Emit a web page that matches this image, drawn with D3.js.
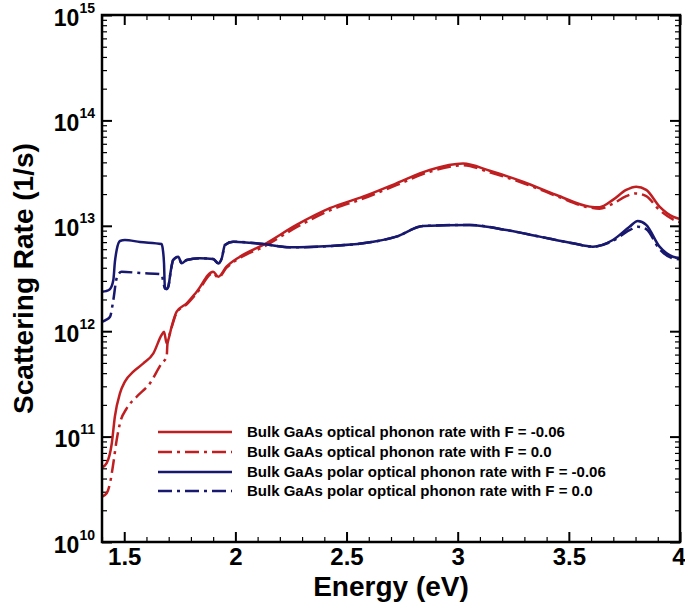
<!DOCTYPE html>
<html>
<head>
<meta charset="utf-8">
<script src="https://cdn.jsdelivr.net/npm/d3@7"></script>
<style>
  html, body { margin: 0; padding: 0; background: #fff; }
  svg { display: block; font-family: "Liberation Sans", Arial, sans-serif; font-weight: bold; }
</style>
</head>
<body>
<svg id="chart" width="685" height="609"></svg>
<script>
// ---------- data ----------
const seriesNames = [
  "Bulk GaAs optical phonon rate with F = -0.06",
  "Bulk GaAs optical phonon rate with F = 0.0",
  "Bulk GaAs polar optical phonon rate with F = -0.06",
  "Bulk GaAs polar optical phonon rate with F = 0.0"
];

const opticalE = [1.400,1.421,1.444,1.458,1.481,1.503,1.541,1.586,1.631,1.668,1.679,1.691,1.698,1.713,1.736,1.781,1.826,1.900,1.923,1.960,2.020,2.125,2.275,2.425,2.574,2.724,2.874,3.024,3.144,3.293,3.444,3.594,3.638,3.698,3.758,3.803,3.848,3.908,3.968,4.000];
const opticalRateF006 = [5.1e10,5.6e10,8.6e10,1.55e11,2.58e11,3.32e11,4.13e11,4.95e11,6.17e11,9.2e11,9.9e11,7.67e11,8.26e11,1.10e12,1.53e12,1.84e12,2.37e12,3.67e12,3.29e12,4.09e12,5.09e12,6.58e12,1.02e13,1.47e13,1.89e13,2.53e13,3.38e13,3.89e13,3.33e13,2.62e13,1.96e13,1.52e13,1.50e13,1.76e13,2.19e13,2.35e13,2.19e13,1.52e13,1.22e13,1.16e13];

const opticalE0 = [1.400,1.421,1.436,1.451,1.466,1.481,1.511,1.556,1.616,1.668,1.691,1.694,1.698,1.713,1.736,1.781,1.826,1.900,1.923,1.960,2.020,2.125,2.275,2.425,2.574,2.724,2.874,3.024,3.144,3.293,3.444,3.594,3.638,3.698,3.758,3.803,3.848,3.908,3.968,4.000];
const opticalRateF0 = [2.69e10,2.90e10,3.61e10,5.58e10,9.29e10,1.34e11,1.85e11,2.39e11,3.21e11,4.95e11,5.73e11,7.41e11,8.26e11,1.08e12,1.50e12,1.80e12,2.30e12,3.55e12,3.22e12,4.00e12,4.95e12,6.30e12,9.7e12,1.40e13,1.81e13,2.43e13,3.25e13,3.75e13,3.22e13,2.55e13,1.92e13,1.49e13,1.45e13,1.62e13,1.91e13,2.03e13,1.91e13,1.41e13,1.15e13,1.08e13];

const polarE = [1.400,1.418,1.436,1.451,1.458,1.466,1.481,1.503,1.571,1.668,1.674,1.679,1.683,1.690,1.698,1.710,1.720,1.743,1.758,1.781,1.840,1.900,1.923,1.939,1.953,1.990,2.125,2.245,2.425,2.574,2.724,2.844,3.054,3.219,3.369,3.518,3.608,3.698,3.773,3.810,3.848,3.908,3.968,4.000];
const polarRateF006 = [2.37e12,2.40e12,2.51e12,3.06e12,4.54e12,5.89e12,7.18e12,7.33e12,7.02e12,6.71e12,5.89e12,4.41e12,2.55e12,2.51e12,2.64e12,3.80e12,4.73e12,5.09e12,4.41e12,4.73e12,4.92e12,4.84e12,4.41e12,4.94e12,6.58e12,7.06e12,6.71e12,6.25e12,6.43e12,6.82e12,7.89e12,9.95e12,1.02e13,9.12e12,7.89e12,6.82e12,6.34e12,7.33e12,9.79e12,1.11e13,1.02e13,6.34e12,5.09e12,4.94e12];

const polarE0 = [1.400,1.418,1.436,1.451,1.466,1.488,1.571,1.668,1.674,1.683,1.690,1.698,1.710,1.720,1.743,1.758,1.781,1.840,1.900,1.923,1.939,1.953,1.990,2.125,2.245,2.425,2.574,2.724,2.844,3.054,3.219,3.369,3.518,3.608,3.698,3.773,3.810,3.848,3.908,3.968,4.000];
const polarRateF0 = [1.23e12,1.28e12,1.37e12,1.98e12,3.18e12,3.67e12,3.56e12,3.47e12,3.06e12,2.55e12,2.51e12,2.64e12,3.80e12,4.73e12,5.09e12,4.41e12,4.73e12,4.92e12,4.84e12,4.41e12,4.94e12,6.58e12,7.06e12,6.71e12,6.25e12,6.43e12,6.82e12,7.89e12,9.95e12,1.02e13,9.12e12,7.89e12,6.82e12,6.34e12,7.20e12,9.1e12,9.8e12,9.3e12,6.0e12,4.9e12,4.8e12];

const xMajorTicks = [1.5, 2, 2.5, 3, 3.5, 4];
const yMajorTicks = [1e10, 1e11, 1e12, 1e13, 1e14, 1e15];
const xTitle = "Energy (eV)";
const yTitle = "Scattering Rate (1/s)";

// ---------- layout ----------
const svg = d3.select("#chart");
const L = 102, R = 680, T = 15, B = 542;
const red = "#c01f22", blue = "#17186e";
const dashDot = "14,5,3,5";

const x = d3.scaleLinear().domain([1.4, 4]).range([L, R]);
const y = d3.scaleLog().domain([1e10, 1e15]).range([B, T]);

const xMinor = d3.range(14, 41).map(d => d / 10).filter(v => !xMajorTicks.some(m => Math.abs(m - v) < 1e-9));
const yMinor = y.ticks().filter(v => !yMajorTicks.some(m => Math.abs(m - v) / m < 1e-9));

// clip
svg.append("clipPath").attr("id", "clip").append("rect")
  .attr("x", L).attr("y", T).attr("width", R - L).attr("height", B - T);

// ---------- axes ----------
function styleAxis(g) {
  g.select(".domain").remove();
  g.selectAll(".tick line").attr("stroke", "#000").attr("stroke-width", 2);
}
// bottom major with labels
svg.append("g").attr("transform", `translate(0,${B})`)
  .call(d3.axisBottom(x).tickValues(xMajorTicks).tickSize(-10).tickPadding(6).tickFormat(d3.format("")))
  .call(styleAxis)
  .call(g => g.selectAll("text").attr("font-size", 24).attr("font-weight", "bold").attr("fill", "#000")
    .attr("font-family", "Liberation Sans, Arial, sans-serif"))
  .call(g => g.selectAll(".tick text").filter(d => d === 4).attr("text-anchor", "end").attr("x", 5));
// bottom minor
svg.append("g").attr("transform", `translate(0,${B})`)
  .call(d3.axisBottom(x).tickValues(xMinor).tickSize(-5).tickFormat(""))
  .call(styleAxis).call(g => g.selectAll(".tick line").attr("stroke-width", 1.2));
// top major & minor
svg.append("g").attr("transform", `translate(0,${T})`)
  .call(d3.axisTop(x).tickValues(xMajorTicks).tickSize(-10).tickFormat(""))
  .call(styleAxis);
svg.append("g").attr("transform", `translate(0,${T})`)
  .call(d3.axisTop(x).tickValues(xMinor).tickSize(-5).tickFormat(""))
  .call(styleAxis).call(g => g.selectAll(".tick line").attr("stroke-width", 1.2));

// left major with labels
const yAx = svg.append("g").attr("transform", `translate(${L},0)`)
  .call(d3.axisLeft(y).tickValues(yMajorTicks).tickSize(-10).tickPadding(6).tickFormat(() => ""))
  .call(styleAxis);
yAx.selectAll(".tick text").each(function(d) {
  const t = d3.select(this);
  t.text(null).attr("font-family", "Liberation Sans, Arial, sans-serif").attr("fill", "#000")
    .attr("text-anchor", "end").attr("dy", null).attr("y", 10).attr("x", -7);
  t.append("tspan").attr("font-size", 23).attr("font-weight", "bold").text("10");
  t.append("tspan").attr("font-size", 14).attr("font-weight", "bold").attr("dy", -13)
    .text(String(Math.round(Math.log10(d))));
});
svg.append("g").attr("transform", `translate(${L},0)`)
  .call(d3.axisLeft(y).tickValues(yMinor).tickSize(-5).tickFormat(""))
  .call(styleAxis).call(g => g.selectAll(".tick line").attr("stroke-width", 1.2));
// right
svg.append("g").attr("transform", `translate(${R},0)`)
  .call(d3.axisRight(y).tickValues(yMajorTicks).tickSize(-10).tickFormat(""))
  .call(styleAxis);
svg.append("g").attr("transform", `translate(${R},0)`)
  .call(d3.axisRight(y).tickValues(yMinor).tickSize(-5).tickFormat(""))
  .call(styleAxis).call(g => g.selectAll(".tick line").attr("stroke-width", 1.2));

// ---------- series ----------
const series = [
  { name: seriesNames[0], E: opticalE,  V: opticalRateF006, color: red,  dash: null },
  { name: seriesNames[1], E: opticalE0, V: opticalRateF0,   color: red,  dash: dashDot },
  { name: seriesNames[2], E: polarE,    V: polarRateF006,   color: blue, dash: null },
  { name: seriesNames[3], E: polarE0,   V: polarRateF0,     color: blue, dash: dashDot }
];
const line = d3.line().x(d => x(d[0])).y(d => y(d[1])).curve(d3.curveMonotoneX);
const plot = svg.append("g").attr("clip-path", "url(#clip)");
[series[1], series[3], series[0], series[2]].forEach(s => {
  plot.append("path")
    .datum(s.E.map((e, i) => [e, s.V[i]]))
    .attr("d", line)
    .attr("fill", "none")
    .attr("stroke", s.color)
    .attr("stroke-width", 2.5)
    .attr("stroke-linejoin", "round")
    .attr("stroke-dasharray", s.dash);
});

// frame
svg.append("rect").attr("x", L).attr("y", T).attr("width", R - L).attr("height", B - T)
  .attr("fill", "none").attr("stroke", "#000").attr("stroke-width", 2.5);

// ---------- legend ----------
const legY = [432, 452, 472, 491];
const leg = svg.append("g");
series.forEach((s, i) => {
  leg.append("line").attr("x1", 158).attr("x2", 232).attr("y1", legY[i]).attr("y2", legY[i])
    .attr("stroke", s.color).attr("stroke-width", 2.5).attr("stroke-dasharray", s.dash);
  leg.append("text").attr("x", 247).attr("y", legY[i] + 5).attr("font-size", 15)
    .attr("fill", "#000").text(s.name);
});

// ---------- titles ----------
svg.append("text").attr("x", (L + R) / 2).attr("y", 596).attr("text-anchor", "middle")
  .attr("font-size", 28).attr("fill", "#000").text(xTitle);
svg.append("text").attr("transform", `translate(33,${(T + B) / 2}) rotate(-90)`)
  .attr("text-anchor", "middle").attr("font-size", 28).attr("fill", "#000").text(yTitle);
</script>
</body>
</html>
